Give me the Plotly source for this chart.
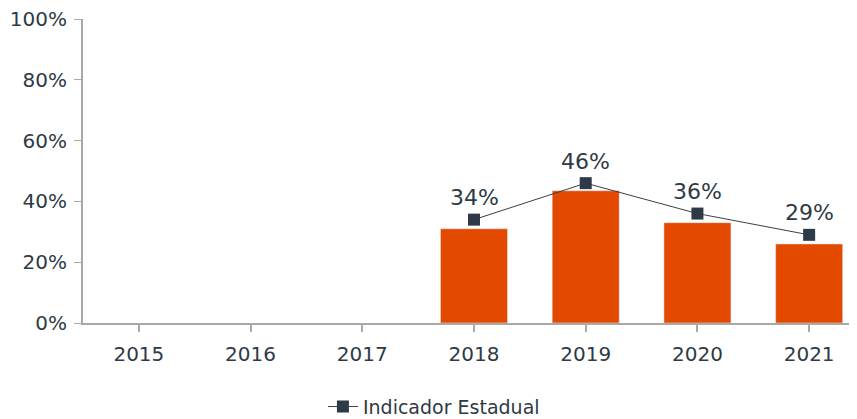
import plotly.graph_objects as go

years = ["2015", "2016", "2017", "2018", "2019", "2020", "2021"]
bar_values = [None, None, None, 31, 43.5, 33, 26]
indicator = [None, None, None, 34, 46, 36, 29]
indicator_labels = ["", "", "", "34%", "46%", "36%", "29%"]
y_ticks = [0, 20, 40, 60, 80, 100]
y_tick_text = ["0%", "20%", "40%", "60%", "80%", "100%"]

text_color = "#2e3a45"
font_family = "DejaVu Sans, sans-serif"

fig = go.Figure()
fig.add_trace(go.Bar(
    x=years, y=bar_values, marker_color="#e34a00", showlegend=False,
    hoverinfo="skip",
))
fig.add_trace(go.Scatter(
    x=years, y=indicator, mode="lines+markers", name="Indicador Estadual",
    line=dict(color="#3a4048", width=1),
    marker=dict(symbol="square", size=12, color="#2e3a45"),
))

for i, (val, lab) in enumerate(zip(indicator, indicator_labels)):
    if val is None:
        continue
    fig.add_annotation(
        x=i, y=val, text=lab, showarrow=False, yanchor="middle", yshift=22,
        font=dict(size=22, color=text_color, family=font_family),
    )

fig.update_layout(
    width=857, height=411,
    margin=dict(l=75, r=0, t=11, b=96),
    plot_bgcolor="white", paper_bgcolor="white",
    bargap=0.4,
    font=dict(family=font_family, color=text_color, size=19),
    legend=dict(orientation="h", x=0.497, xanchor="center", xref="container",
                y=0.03, yanchor="middle", yref="container",
                font=dict(size=19, color=text_color)),
    xaxis=dict(
        type="category", categoryorder="array", categoryarray=years,
        range=[-0.5, len(years) - 0.5],
        showline=True, linecolor="#a8a8a8", linewidth=2,
        ticks="outside", ticklen=7, tickcolor="#a8a8a8", tickwidth=2,
        tickfont=dict(size=20, color=text_color), showgrid=False,
        ticklabelstandoff=5,
        automargin=False,
    ),
    yaxis=dict(
        range=[0, 100], tickvals=y_ticks, ticktext=y_tick_text,
        showline=True, linecolor="#a8a8a8", linewidth=2,
        ticks="outside", ticklen=7, tickcolor="#a8a8a8", tickwidth=1,
        tickfont=dict(size=20, color=text_color), showgrid=False, zeroline=False,
        ticklabelstandoff=3, ticklabeloverflow="allow",
        automargin=False,
    ),
)

fig.write_html("out.html")
